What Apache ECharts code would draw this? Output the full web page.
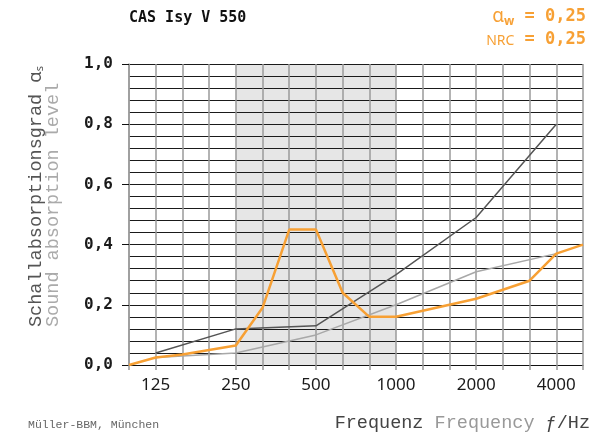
<!DOCTYPE html>
<html>
<head>
<meta charset="utf-8">
<script src="https://cdn.jsdelivr.net/npm/echarts@6/dist/echarts.min.js"></script>
<style>
  html, body { margin: 0; padding: 0; background: #fff; }
  #chart { width: 607px; height: 442px; }
</style>
</head>
<body>
<div id="chart"></div>
<script>
// Third-octave band centre frequencies (Hz), plotted at equal spacing
const bands = ['100', '125', '160', '200', '250', '315', '400', '500', '630', '800',
               '1000', '1250', '1600', '2000', '2500', '3150', '4000', '5000'];
// Frequencies that get an axis label
const tickLabels = ['125', '250', '500', '1000', '2000', '4000'];
// Octave bands used by the two reference curves
const octaveBands = ['125', '250', '500', '1000', '2000', '4000'];

// Measured practical absorption coefficient per third-octave band
const measured = [0.0, 0.025, 0.035, 0.05, 0.065, 0.19, 0.45, 0.45, 0.24, 0.16,
                  0.16, 0.18, 0.20, 0.22, 0.25, 0.28, 0.37, 0.40];
// Reference curves per octave band
const refUpper = [0.04, 0.12, 0.13, 0.30, 0.49, 0.80];
const refLower = [0.025, 0.04, 0.10, 0.20, 0.31, 0.37];

// Shaded frequency range
const shadeFrom = '250';
const shadeTo = '1000';

const alphaW = '0,25';
const nrc = '0,25';

const idx = f => bands.indexOf(f);
const toPairs = (freqs, vals) => freqs.map((f, i) => [idx(f), vals[i]]);

const mono = '"Liberation Mono", "DejaVu Sans Mono", monospace';
const monoBold = '"DejaVu Sans Mono", monospace';
const sans = '"Noto Sans", "Open Sans", sans-serif';
const orange = '#f7a034';

const chart = echarts.init(document.getElementById('chart'), null, { renderer: 'canvas' });

chart.setOption({
  animation: false,
  backgroundColor: '#fff',
  grid: { left: 129, right: 24, top: 64, bottom: 77 },
  xAxis: {
    type: 'value', min: 0, max: bands.length - 1, interval: 1, z: 5,
    axisLine: { show: true, lineStyle: { color: '#111', width: 1 } },
    axisTick: { show: true, length: 5, lineStyle: { color: '#999', width: 1.5 } },
    axisLabel: {
      margin: 12, fontFamily: sans, fontSize: 17, color: '#1a1a1a',
      formatter: v => (tickLabels.includes(bands[v]) ? bands[v] : '')
    },
    splitLine: { show: true, lineStyle: { color: '#9a9a9a', width: 1.5 } }
  },
  yAxis: [
    {
      type: 'value', min: 0, max: 1, interval: 0.04, z: 5,
      axisLine: { show: false }, axisTick: { show: false }, axisLabel: { show: false },
      splitLine: { show: true, lineStyle: { color: '#1a1a1a', width: 1 } }
    },
    {
      type: 'value', min: 0, max: 1, interval: 0.2, position: 'left', z: 5,
      axisLine: { show: true, lineStyle: { color: '#9a9a9a', width: 1.5 } },
      axisTick: { show: true, length: 7, lineStyle: { color: '#111', width: 1 } },
      axisLabel: {
        margin: 16, fontFamily: monoBold, fontWeight: 'bold', fontSize: 16, color: '#1a1a1a',
        formatter: v => v.toFixed(1).replace('.', ',')
      },
      splitLine: { show: false }
    }
  ],
  series: [
    {
      type: 'line', data: [], z: 1, silent: true,
      markArea: {
        silent: true, z: 1,
        itemStyle: { color: '#e6e6e6' },
        data: [[{ xAxis: idx(shadeFrom) }, { xAxis: idx(shadeTo) }]]
      }
    },
    {
      name: 'lower', type: 'line', z: 6, symbol: 'none',
      data: toPairs(octaveBands, refLower),
      lineStyle: { color: '#a8a8a8', width: 1.5 }
    },
    {
      name: 'upper', type: 'line', z: 6, symbol: 'none',
      data: toPairs(octaveBands, refUpper),
      lineStyle: { color: '#555', width: 1.5 }
    },
    {
      name: 'measured', type: 'line', z: 7, symbol: 'none',
      data: bands.map((f, i) => [i, measured[i]]),
      lineStyle: { color: orange, width: 2.5 }
    }
  ],
  graphic: [
    {
      type: 'text', left: 129, top: 11,
      style: { text: 'CAS Isy V 550', fontFamily: monoBold, fontWeight: 'bold', fontSize: 15, fill: '#111' }
    },
    {
      type: 'text', right: 21, top: 7,
      style: {
        text: '{a|α}{w|w}{b| = ' + alphaW + '}',
        rich: {
          a: { fontFamily: sans, fontSize: 19, fill: orange, height: 22, verticalAlign: 'bottom' },
          w: { fontFamily: sans, fontWeight: 'bold', fontSize: 12, fill: orange, height: 12, verticalAlign: 'bottom' },
          b: { fontFamily: monoBold, fontWeight: 'bold', fontSize: 17, fill: orange, height: 22, verticalAlign: 'bottom' }
        }
      }
    },
    {
      type: 'text', right: 21, top: 31,
      style: {
        text: '{n|NRC}{b| = ' + nrc + '}',
        rich: {
          n: { fontFamily: sans, fontSize: 14, fill: orange, verticalAlign: 'bottom' },
          b: { fontFamily: monoBold, fontWeight: 'bold', fontSize: 17, fill: orange, verticalAlign: 'bottom' }
        }
      }
    },
    {
      type: 'text', x: 36, y: 327, rotation: Math.PI / 2,
      style: {
        text: '{t|Schallabsorptionsgrad }{a|α}{s|s}',
        align: 'left', verticalAlign: 'middle',
        rich: {
          t: { fontFamily: mono, fontSize: 18.5, fill: '#555' },
          a: { fontFamily: sans, fontSize: 18.5, fill: '#555' },
          s: { fontFamily: sans, fontSize: 11, fill: '#555', padding: [8, 0, 0, 0] }
        }
      }
    },
    {
      type: 'text', x: 53, y: 327, rotation: Math.PI / 2,
      style: {
        text: 'Sound absorption level', align: 'left', verticalAlign: 'middle',
        fontFamily: mono, fontSize: 18.5, fill: '#aaa'
      }
    },
    {
      type: 'text', left: 28, top: 419,
      style: { text: 'Müller-BBM, München', fontFamily: mono, fontSize: 11.5, fill: '#666' }
    },
    {
      type: 'text', right: 17, top: 414,
      style: {
        text: '{d|Frequenz }{l|Frequency }{d|ƒ/Hz}',
        rich: {
          d: { fontFamily: mono, fontSize: 18.5, fill: '#444' },
          l: { fontFamily: mono, fontSize: 18.5, fill: '#999' }
        }
      }
    }
  ]
});
</script>
</body>
</html>
